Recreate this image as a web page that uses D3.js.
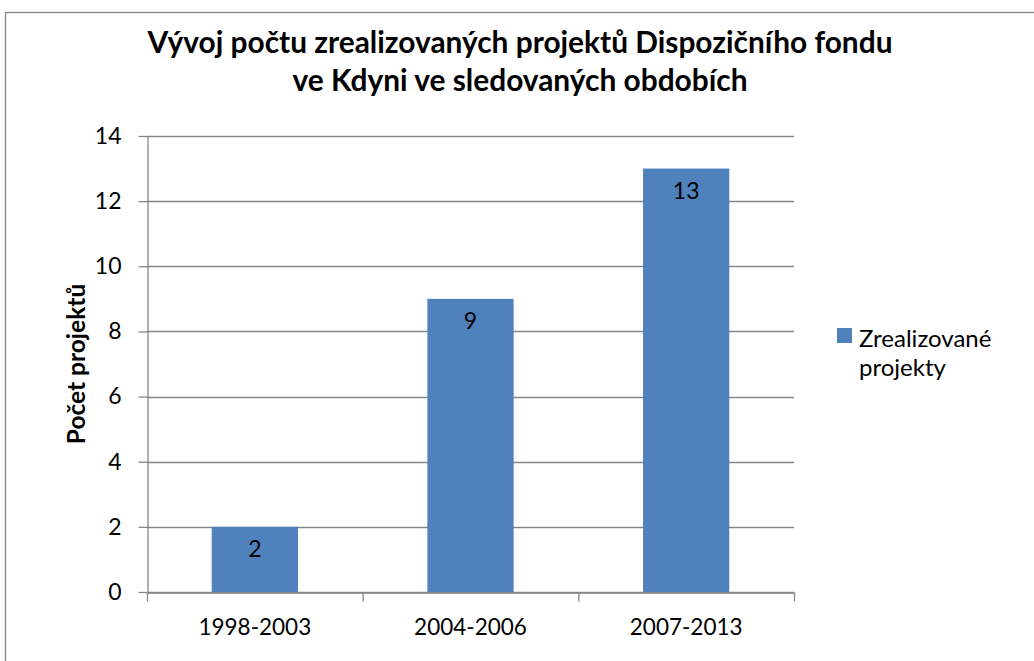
<!DOCTYPE html>
<html>
<head>
<meta charset="utf-8">
<script src="https://cdn.jsdelivr.net/npm/d3@7"></script>
<style>
  body { margin: 0; background: #fff; }
  svg { display: block; }
  text { font-family: Lato, "Open Sans", "Noto Sans", sans-serif; fill: #000; }
</style>
</head>
<body>
<svg id="chart" width="1034" height="661"></svg>
<script>
// Chart data
const titleLines = ["Vývoj počtu zrealizovaných projektů Dispozičního fondu", "ve Kdyni ve sledovaných obdobích"];
const categories = ["1998-2003", "2004-2006", "2007-2013"];
const projectCounts = [2, 9, 13];
const yTicks = [0, 2, 4, 6, 8, 10, 12, 14];
const legendLines = ["Zrealizované", "projekty"];
const yAxisTitle = "Počet projektů";

const W = 1034, H = 661;
const plot = { left: 147, right: 794, top: 136, bottom: 592 };
const barColor = "#4F81BD";
const axisColor = "#868686";

const svg = d3.select("#chart");

// outer chart frame
svg.append("rect")
  .attr("x", 5.5).attr("y", 12.5)
  .attr("width", 1100).attr("height", 700)
  .attr("fill", "#fff").attr("stroke", "#868686").attr("stroke-width", 1.3);

const x = d3.scaleBand()
  .domain(categories)
  .range([plot.left, plot.right])
  .paddingInner(0.6)
  .paddingOuter(0.3);

const xEdge = d3.scaleLinear()
  .domain([0, categories.length])
  .range([plot.left, plot.right]);

const y = d3.scaleLinear()
  .domain([0, 14])
  .range([plot.bottom, plot.top]);

// horizontal gridlines
svg.append("g")
  .selectAll("line")
  .data(yTicks)
  .join("line")
  .attr("x1", plot.left).attr("x2", plot.right)
  .attr("y1", d => Math.round(y(d)) + 0.5).attr("y2", d => Math.round(y(d)) + 0.5)
  .attr("stroke", axisColor).attr("stroke-width", 1.3);

// bars
svg.append("g")
  .selectAll("rect")
  .data(projectCounts)
  .join("rect")
  .attr("x", (d, i) => x(categories[i]))
  .attr("y", d => y(d))
  .attr("width", x.bandwidth())
  .attr("height", d => y(0) - y(d))
  .attr("fill", barColor);

// value labels inside bar tops
svg.append("g")
  .selectAll("text")
  .data(projectCounts)
  .join("text")
  .attr("x", (d, i) => x(categories[i]) + x.bandwidth() / 2)
  .attr("y", d => y(d) + 30)
  .attr("text-anchor", "middle")
  .style("font-size", "23px")
  .text(d => d);

// y axis
const yAxis = svg.append("g")
  .attr("transform", `translate(${plot.left + 0.5},0)`)
  .call(d3.axisLeft(y).tickValues(yTicks).tickSizeInner(9).tickSizeOuter(0).tickPadding(17));
yAxis.attr("font-family", null).attr("font-size", null);
yAxis.select(".domain").attr("stroke", axisColor).attr("stroke-width", 1.3);
yAxis.selectAll(".tick line").attr("stroke", axisColor).attr("stroke-width", 1.3);
yAxis.selectAll(".tick text").style("font-size", "23px").attr("fill", "#000");

// x axis with category boundary ticks
const xAxis = svg.append("g")
  .attr("transform", `translate(0,${plot.bottom + 0.5})`)
  .call(d3.axisBottom(xEdge).tickValues(d3.range(categories.length + 1)).tickFormat("").tickSizeInner(9).tickSizeOuter(0));
xAxis.select(".domain").attr("stroke", axisColor).attr("stroke-width", 1.3);
xAxis.selectAll(".tick line").attr("stroke", axisColor).attr("stroke-width", 1.3);

// category labels
svg.append("g")
  .selectAll("text")
  .data(categories)
  .join("text")
  .attr("x", d => x(d) + x.bandwidth() / 2)
  .attr("y", 635)
  .attr("text-anchor", "middle")
  .style("font-size", "22.5px")
  .text(d => d);

// y axis title
svg.append("text")
  .attr("transform", `translate(85,${(plot.top + plot.bottom) / 2}) rotate(-90)`)
  .attr("text-anchor", "middle")
  .style("font-size", "24.5px")
  .style("font-weight", "bold")
  .text(yAxisTitle);

// title
const tl = svg.append("g").selectAll("text")
  .data(titleLines)
  .join("text")
  .attr("x", 520)
  .attr("y", (d, i) => 53 + i * 38)
  .attr("text-anchor", "middle")
  .style("font-weight", "bold")
  .style("font-size", "28px")
  .text(d => d);
const w0 = tl.node().getComputedTextLength();
tl.style("font-size", (28 * 745 / w0).toFixed(2) + "px");

// legend
const legend = svg.append("g");
legend.append("rect")
  .attr("x", 837).attr("y", 328).attr("width", 15).attr("height", 15)
  .attr("fill", barColor);
legend.selectAll("text")
  .data(legendLines)
  .join("text")
  .attr("x", 859)
  .attr("y", (d, i) => 347 + i * 29)
  .style("font-size", "24px")
  .text(d => d);
</script>
</body>
</html>
